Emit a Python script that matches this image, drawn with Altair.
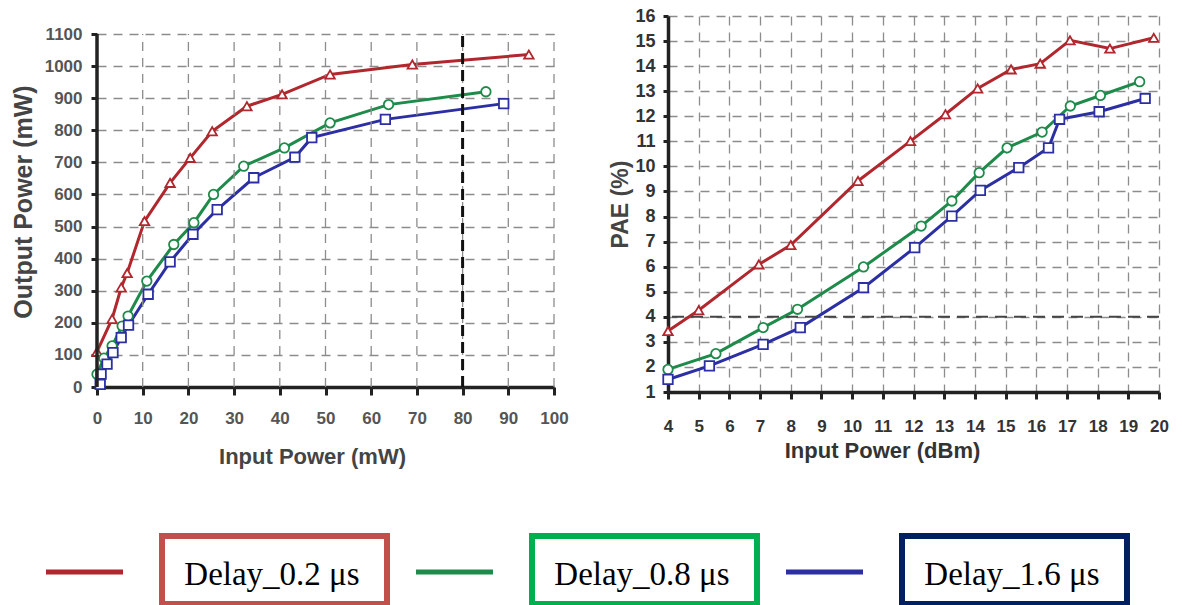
import altair as alt
import pandas as pd

SERIES = ["Delay_0.2 μs", "Delay_0.8 μs", "Delay_1.6 μs"]

# Left panel: Output Power (mW) vs Input Power (mW)
red_in_mw = [0, 3.3, 5.3, 6.6, 10.4, 16, 20.4, 25.2, 32.8, 40.5, 51, 69, 94.5]
red_out_mw = [110, 212, 310, 355, 517, 636, 714, 797, 875, 912, 974, 1005, 1036]
green_in_mw = [0, 1.5, 3.3, 5.5, 6.8, 10.9, 16.8, 21.2, 25.5, 32.1, 41, 51, 63.8, 85.1]
green_out_mw = [40, 90, 128, 190, 221, 330, 444, 512, 600, 688, 745, 823, 880, 920]
blue_in_mw = [0.7, 0.9, 2.2, 3.5, 5.3, 6.9, 11.2, 16, 21, 26.3, 34.3, 43.3, 47, 63.1, 89]
blue_out_mw = [8, 40, 71, 107, 154, 193, 289, 390, 476, 553, 652, 716, 777, 834, 883]

# Right panel: PAE (%) vs Input Power (dBm)
red_in_dbm = [4, 5.0, 6.96, 8.0, 10.19, 11.9, 13.04, 14.09, 15.18, 16.13, 17.1, 18.4, 19.83]
red_pae = [3.43, 4.26, 6.09, 6.86, 9.42, 11.01, 12.08, 13.11, 13.87, 14.1, 15.03, 14.7, 15.13]
green_in_dbm = [4, 5.56, 7.1, 8.22, 10.37, 12.25, 13.25, 14.14, 15.05, 16.19, 17.11, 18.09, 19.37]
green_pae = [1.9, 2.53, 3.57, 4.3, 5.99, 7.62, 8.62, 9.75, 10.74, 11.37, 12.41, 12.83, 13.38]
blue_in_dbm = [4, 5.35, 7.1, 8.31, 10.37, 12.04, 13.25, 14.18, 15.43, 16.4, 16.76, 18.05, 19.55]
blue_pae = [1.5, 2.04, 2.9, 3.57, 5.16, 6.76, 8.02, 9.04, 9.95, 10.74, 11.88, 12.18, 12.71]

left_x_ticks = list(range(0, 101, 10))
left_y_ticks = list(range(0, 1101, 100))
right_x_ticks = list(range(4, 21))
right_y_ticks = list(range(1, 17))
marker_line_mw = [80]
pae_dark_line = [4]

LINE_COLORS = ["#B0272E", "#1E8B4A", "#2B2FA3"]
SHAPES = ["triangle-up", "circle", "square"]
LEG_LINE_COLORS = ["#953735", "#00B050", "#002060"]
LEG_BOX_COLORS = ["#C0504D", "#00B050", "#002060"]


def long_df(pairs):
    rows = []
    for name, xs, ys in pairs:
        for i, (a, b) in enumerate(zip(xs, ys)):
            rows.append({"series": name, "x": a, "y": b, "order": i})
    return pd.DataFrame(rows)


left_df = long_df([(SERIES[0], red_in_mw, red_out_mw),
                   (SERIES[1], green_in_mw, green_out_mw),
                   (SERIES[2], blue_in_mw, blue_out_mw)])
right_df = long_df([(SERIES[0], red_in_dbm, red_pae),
                    (SERIES[1], green_in_dbm, green_pae),
                    (SERIES[2], blue_in_dbm, blue_pae)])

color_scale = alt.Scale(domain=SERIES, range=LINE_COLORS)
shape_scale = alt.Scale(domain=SERIES, range=SHAPES)

GRID_STYLE = dict(gridDash=[9, 7], gridColor="#8c8c8c", gridWidth=1.3)
LABELS = dict(labelOverlap=False, labelFlush=False, format="d")
FONT = "Liberation Sans"

# ---------------- left panel ----------------
LW, LH = 457, 371
left_ymax = 1100 * LH / 353.0

lx_scale = alt.Scale(domain=[0, 100], nice=False, zero=False)
ly_scale = alt.Scale(domain=[0, left_ymax], nice=False)
lx_axis = alt.Axis(values=left_x_ticks, title="Input Power (mW)", grid=False,
                   domainWidth=3.5, domainColor="#222", tickSize=8, tickWidth=3,
                   tickColor="#222", labelPadding=15, labelFont=FONT, labelFontSize=17,
                   labelColor="#555", labelFontWeight="bold", titleFont=FONT,
                   titleFontSize=22, titleFontWeight="bold", titleColor="#444",
                   titlePadding=20, titleX=215, **LABELS)
ly_axis = alt.Axis(values=left_y_ticks, title="Output Power (mW)", domain=False, grid=True,
                   tickSize=6, tickWidth=3, tickColor="#222", labelPadding=9,
                   labelFont=FONT, labelFontSize=17, labelColor="#555",
                   labelFontWeight="bold", titleFont=FONT, titleFontSize=25,
                   titleFontWeight="bold", titleColor="#444", titlePadding=8,
                   **GRID_STYLE, **LABELS)
lx = alt.X("x:Q", scale=lx_scale, axis=lx_axis)
ly = alt.Y("y:Q", scale=ly_scale, axis=ly_axis)

left_base = alt.Chart(left_df)
left_lines = left_base.mark_line(strokeWidth=3).encode(
    x=lx, y=ly, color=alt.Color("series:N", scale=color_scale, legend=None),
    order="order:Q")
left_pts = left_base.mark_point(size=90, strokeWidth=1.8, fill="white", fillOpacity=1, opacity=1).encode(
    x=lx, y=ly,
    color=alt.Color("series:N", scale=color_scale, legend=None),
    shape=alt.Shape("series:N", scale=shape_scale, legend=None))

# vertical grid lines that stop at the top tick (1100)
vgrid_df = pd.DataFrame({"x": left_x_ticks[1:], "y": 0, "y2": left_y_ticks[-1]})
left_vgrid = alt.Chart(vgrid_df).mark_rule(
    strokeDash=GRID_STYLE["gridDash"], color=GRID_STYLE["gridColor"],
    strokeWidth=GRID_STYLE["gridWidth"]).encode(x=lx, y=ly, y2="y2:Q")

yaxis_df = pd.DataFrame({"x": [0], "y": [0], "y2": [left_y_ticks[-1]]})
left_yaxis = alt.Chart(yaxis_df).mark_rule(strokeWidth=3.5, color="#222").encode(
    x=lx, y=ly, y2="y2:Q")
v80_df = pd.DataFrame({"x": marker_line_mw, "y": [0], "y2": [left_y_ticks[-1]]})
left_v80 = alt.Chart(v80_df).mark_rule(strokeWidth=3, color="#111", strokeDash=[11, 6]).encode(
    x=lx, y=ly, y2="y2:Q")

left = alt.layer(left_lines, left_vgrid, left_v80, left_pts, left_yaxis).properties(width=LW, height=LH)

# ---------------- right panel ----------------
RW, RH = 491, 376
rx_scale = alt.Scale(domain=[4, 20], nice=False, zero=False)
ry_scale = alt.Scale(domain=[1, 16], nice=False, zero=False)
rx_axis = alt.Axis(values=right_x_ticks, title="Input Power (dBm)", grid=True,
                   domainWidth=3.5, domainColor="#222", tickSize=7, tickWidth=3,
                   tickColor="#222", labelPadding=19, labelFont=FONT, labelFontSize=17,
                   labelColor="#333", labelFontWeight="bold", titleFont=FONT,
                   titleFontSize=22, titleFontWeight="bold", titleColor="#333",
                   titlePadding=6, titleX=214, **GRID_STYLE, **LABELS)
ry_axis = alt.Axis(values=right_y_ticks, title="PAE (%)", grid=True,
                   domainWidth=3.5, domainColor="#222", tickSize=5, tickWidth=3,
                   tickColor="#222", labelPadding=8, labelFont=FONT, labelFontSize=18,
                   labelColor="#333", labelFontWeight="bold", titleFont=FONT,
                   titleFontSize=23, titleFontWeight="bold", titleColor="#444",
                   titlePadding=2, **GRID_STYLE, **LABELS)
rx = alt.X("x:Q", scale=rx_scale, axis=rx_axis)
ry = alt.Y("y:Q", scale=ry_scale, axis=ry_axis)

right_base = alt.Chart(right_df)
right_lines = right_base.mark_line(strokeWidth=3).encode(
    x=rx, y=ry, color=alt.Color("series:N", scale=color_scale, legend=None),
    order="order:Q")
right_pts = right_base.mark_point(size=90, strokeWidth=1.8, fill="white", fillOpacity=1, opacity=1).encode(
    x=rx, y=ry,
    color=alt.Color("series:N", scale=color_scale, legend=None),
    shape=alt.Shape("series:N", scale=shape_scale, legend=None))
h4_df = pd.DataFrame({"y": pae_dark_line})
right_h4 = alt.Chart(h4_df).mark_rule(strokeWidth=2, color="#444", strokeDash=[12, 7]).encode(y=ry)

right = alt.layer(right_lines, right_h4, right_pts).properties(width=RW, height=RH)

top = alt.hconcat(left, right, spacing=666 - 95 - LW, bounds="flush")

# ---------------- legend ----------------
ORIGIN_X = 95          # legend group is aligned with the left plot's left edge
LEGW, LEGH = 1182 - ORIGIN_X - 15, 80
LEG_Y0 = 525
leg_df = pd.DataFrame({"label": SERIES, "idx": [0, 1, 2]})
leg_x = alt.Scale(domain=[ORIGIN_X, ORIGIN_X + LEGW], nice=False, zero=False)
leg_y = alt.Scale(domain=[LEG_Y0, LEG_Y0 + LEGH], nice=False, zero=False, reverse=True)
leg_base = alt.Chart(leg_df).transform_calculate(
    lx1="44 + datum.idx * 370", lx2="121 + datum.idx * 370",
    bx1="160 + datum.idx * 370", bx2="385 + datum.idx * 370",
    tx="270 + datum.idx * 370", ly="572", by1="536", by2="604", ty="585")
leg_lines = leg_base.mark_rule(strokeWidth=5).encode(
    x=alt.X("lx1:Q", scale=leg_x, axis=None), x2="lx2:Q",
    y=alt.Y("ly:Q", scale=leg_y, axis=None),
    color=alt.Color("label:N", scale=alt.Scale(domain=SERIES, range=LEG_LINE_COLORS), legend=None))
leg_boxes = leg_base.mark_rect(fill="white", strokeWidth=6).encode(
    x=alt.X("bx1:Q", scale=leg_x, axis=None), x2="bx2:Q",
    y=alt.Y("by1:Q", scale=leg_y, axis=None), y2="by2:Q",
    stroke=alt.Stroke("label:N", scale=alt.Scale(domain=SERIES, range=LEG_BOX_COLORS), legend=None))
leg_text = leg_base.mark_text(font="Liberation Serif", fontSize=33, color="black",
                              align="center", baseline="alphabetic").encode(
    x=alt.X("tx:Q", scale=leg_x, axis=None),
    y=alt.Y("ty:Q", scale=leg_y, axis=None),
    text="label:N")
legend = alt.layer(leg_lines, leg_boxes, leg_text).properties(width=LEGW, height=LEGH)

chart = alt.vconcat(top, legend, spacing=58).properties(
    padding={"left": 11, "top": 7, "right": 0, "bottom": 0},
    background="white",
).configure_view(stroke=None).configure_axis(labelOverlap=False)

chart.save("out.html", embed_options={"renderer": "svg", "actions": False})
